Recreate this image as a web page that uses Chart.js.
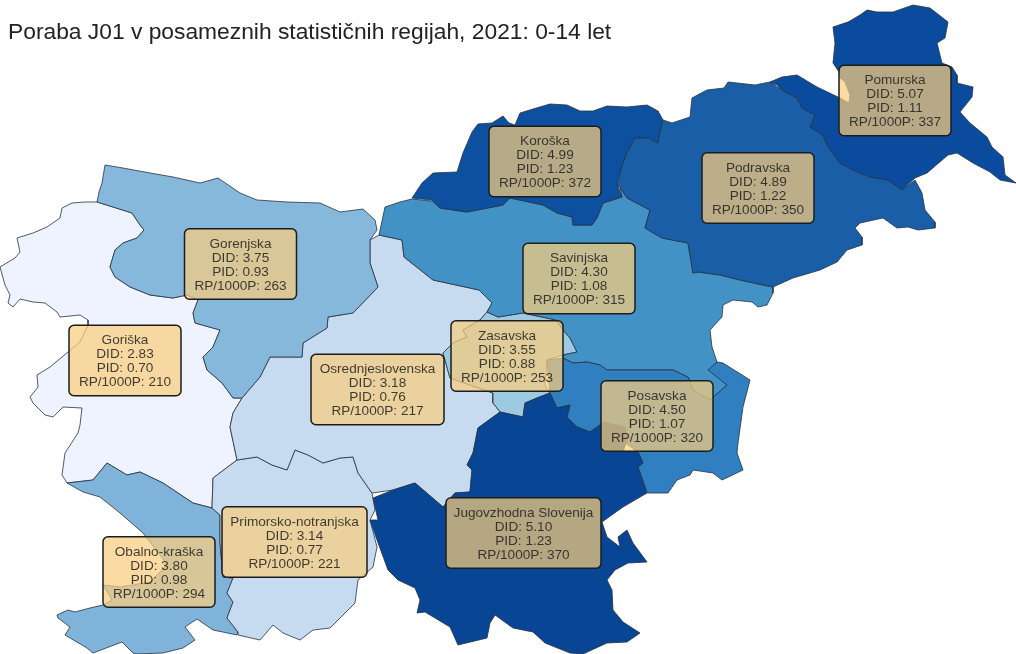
<!DOCTYPE html>
<html>
<head>
<meta charset="utf-8">
<title>Poraba J01</title>
<script src="https://cdn.jsdelivr.net/npm/chart.js@4"></script>
<style>
  body { margin: 0; background: #fff; }
  canvas { display: block; }
</style>
</head>
<body>
<canvas id="mapChart" width="1016" height="654"></canvas>
<script>
const chartTitle = 'Poraba J01 v posameznih statističnih regijah, 2021: 0-14 let';

// Region names and the values printed on the labels
const regions = ['Goriška', 'Obalno-kraška', 'Primorsko-notranjska', 'Osrednjeslovenska', 'Gorenjska', 'Zasavska',
  'Savinjska', 'Koroška', 'Podravska', 'Pomurska', 'Posavska', 'Jugovzhodna Slovenija'];
const did = ['2.83', '3.80', '3.14', '3.18', '3.75', '3.55', '4.30', '4.99', '4.89', '5.07', '4.50', '5.10'];
const pid = ['0.70', '0.98', '0.77', '0.76', '0.93', '0.88', '1.08', '1.23', '1.22', '1.11', '1.07', '1.23'];
const rp = ['210', '294', '221', '217', '263', '253', '315', '372', '350', '337', '320', '370'];

const goriskaOutline = [[97,202],[85,202],[72,203],[62,208],[60,218],[47,227],[33,233],[17,238],[20,252],[15,258],[0,267],[5,285],[10,295],[8,303],[13,307],[20,299],[33,302],[45,303],[57,312],[60,317],[80,315],[88,320],[88,325],[80,342],[68,352],[50,367],[37,375],[38,387],[30,397],[33,403],[45,415],[53,417],[63,407],[82,408],[80,425],[78,433],[65,453],[62,475],[67,483],[93,480],[107,463],[127,475],[140,472],[163,483],[193,503],[212,508],[213,478],[237,460],[230,427],[233,413],[242,398],[233,398],[222,383],[207,370],[203,357],[213,347],[220,330],[195,323],[193,313],[198,300],[187,295],[173,298],[150,295],[130,287],[115,277],[110,267],[115,250],[123,243],[137,238],[144,230],[140,225],[132,213],[113,207]];
const obalnoOutline = [[67,483],[83,492],[100,497],[120,513],[143,533],[160,555],[167,565],[150,582],[120,587],[103,585],[112,600],[103,605],[90,608],[75,612],[68,610],[57,615],[58,618],[70,627],[65,635],[87,648],[93,653],[122,642],[133,653],[137,654],[163,653],[183,648],[195,640],[185,627],[197,619],[213,630],[237,635],[238,632],[227,618],[233,602],[227,593],[233,578],[223,577],[220,543],[220,515],[212,508],[193,503],[163,483],[140,472],[127,475],[107,463],[93,480]];
const primorskoOutline = [[213,478],[237,460],[257,457],[272,465],[287,470],[295,450],[308,455],[323,463],[340,458],[353,457],[358,473],[372,493],[375,510],[370,520],[377,547],[373,567],[358,580],[355,603],[340,618],[330,628],[313,630],[300,640],[283,633],[273,625],[260,640],[238,635],[238,632],[227,618],[233,602],[227,593],[233,578],[223,577],[220,543],[220,515],[212,508]];
const osrednjaOutline = [[242,398],[260,377],[270,357],[302,357],[303,343],[327,328],[328,317],[353,313],[378,287],[370,263],[370,240],[379,235],[402,240],[404,257],[433,280],[479,290],[492,303],[487,312],[480,320],[463,330],[467,337],[453,343],[443,353],[450,378],[493,393],[493,403],[500,412],[478,428],[473,453],[467,465],[472,470],[470,492],[455,493],[443,507],[415,483],[393,490],[372,493],[358,473],[353,457],[340,458],[323,463],[308,455],[295,450],[287,470],[272,465],[257,457],[237,460],[230,427],[233,413]];
const gorenjskaOutline = [[105,165],[102,183],[99,192],[97,202],[113,207],[132,213],[140,225],[144,230],[137,238],[123,243],[115,250],[110,267],[115,277],[130,287],[150,295],[173,298],[187,295],[198,300],[193,313],[195,323],[220,330],[213,347],[203,357],[207,370],[222,383],[233,398],[242,398],[260,377],[270,357],[302,357],[303,343],[327,328],[328,317],[353,313],[378,287],[370,263],[370,240],[377,230],[375,220],[363,209],[340,212],[320,203],[287,202],[257,200],[240,193],[218,178],[200,183],[173,177],[150,173],[123,168]];
const zasavskaOutline = [[487,312],[498,317],[523,313],[556,320],[563,330],[570,338],[577,352],[563,355],[547,360],[545,385],[550,393],[537,398],[525,403],[523,417],[500,412],[493,403],[493,393],[450,378],[443,353],[453,343],[467,337],[463,330],[480,320]];
const savinjskaOutline = [[379,235],[385,207],[400,202],[412,199],[432,201],[440,208],[467,212],[503,205],[510,198],[543,205],[557,213],[572,217],[573,225],[592,225],[597,218],[603,203],[622,197],[620,187],[627,198],[650,210],[645,228],[662,238],[688,243],[693,273],[698,272],[720,275],[740,280],[763,285],[773,287],[773,293],[767,305],[758,307],[752,302],[733,300],[723,305],[722,317],[710,330],[712,347],[717,362],[710,370],[727,385],[710,400],[693,390],[688,377],[673,370],[643,370],[607,370],[600,365],[587,362],[573,363],[563,358],[563,355],[577,352],[570,338],[563,330],[556,320],[523,313],[498,317],[487,312],[492,303],[479,290],[433,280],[404,257],[402,240]];
const koroskaOutline = [[412,198],[422,183],[433,173],[457,172],[463,153],[472,132],[478,124],[492,123],[503,116],[509,123],[515,125],[520,113],[533,109],[550,104],[567,105],[580,111],[593,111],[607,106],[627,107],[647,105],[658,111],[663,120],[660,132],[658,143],[648,138],[635,138],[627,153],[623,163],[617,183],[622,197],[603,203],[597,218],[592,225],[573,225],[572,217],[557,213],[543,205],[510,198],[503,205],[467,212],[440,208],[432,200]];
const podravskaOutline = [[620,187],[617,185],[623,163],[627,153],[635,138],[648,138],[658,143],[660,132],[663,120],[672,123],[690,117],[692,98],[707,90],[724,88],[728,82],[755,85],[770,82],[782,90],[797,98],[802,108],[815,115],[810,127],[823,135],[828,147],[840,163],[853,170],[870,177],[888,180],[902,190],[915,180],[922,193],[925,210],[935,222],[935,228],[918,230],[908,227],[897,228],[883,218],[860,223],[855,228],[862,237],[862,245],[847,250],[837,262],[820,270],[793,278],[773,287],[763,285],[740,280],[720,275],[698,272],[693,273],[688,243],[662,238],[645,228],[650,210],[627,198]];
const pomurskaOutline = [[833,27],[848,22],[860,15],[867,10],[877,12],[893,12],[913,5],[930,8],[948,22],[945,38],[937,43],[942,63],[952,67],[957,75],[957,83],[973,87],[972,97],[960,112],[970,123],[987,137],[992,147],[1003,157],[1005,175],[1016,183],[1000,180],[990,172],[973,163],[957,153],[948,155],[927,173],[915,178],[902,190],[888,180],[870,177],[853,170],[840,163],[828,147],[823,135],[810,127],[815,115],[802,108],[797,98],[782,90],[777,85],[770,82],[782,77],[797,75],[817,87],[840,98],[849,103],[850,95],[845,82],[840,78],[839,72],[833,63],[835,43]];
const posavskaOutline = [[563,358],[573,363],[587,362],[600,365],[607,370],[643,370],[673,370],[688,377],[693,390],[710,400],[727,385],[708,370],[717,362],[723,363],[750,380],[743,407],[738,443],[737,453],[743,470],[722,480],[713,473],[693,470],[690,475],[677,480],[668,493],[647,493],[638,467],[643,463],[638,452],[600,425],[590,432],[577,427],[567,417],[570,405],[557,408],[550,393],[547,360]];
const jvOutline = [[550,393],[537,398],[525,403],[523,417],[500,412],[478,428],[473,453],[467,465],[472,470],[470,492],[455,493],[443,507],[415,483],[393,490],[373,498],[378,520],[370,520],[377,540],[388,570],[398,580],[415,588],[420,600],[417,613],[425,612],[450,627],[458,645],[487,638],[490,623],[495,615],[513,628],[533,632],[545,643],[570,653],[583,654],[607,643],[627,642],[640,633],[623,622],[613,610],[612,590],[607,580],[615,570],[628,563],[647,562],[633,543],[627,530],[618,537],[620,547],[607,537],[602,522],[623,507],[647,493],[638,467],[643,463],[638,452],[623,452],[627,440],[625,427],[603,422],[600,425],[590,432],[577,427],[567,417],[570,405],[557,408]];

const outlines = [goriskaOutline, obalnoOutline, primorskoOutline, osrednjaOutline, gorenjskaOutline, zasavskaOutline,
  savinjskaOutline, koroskaOutline, podravskaOutline, pomurskaOutline, posavskaOutline, jvOutline];

// Label anchors, box centres in map units
const labelX = [125, 159, 294.5, 377.5, 240.5, 507, 579, 545, 758, 895, 657, 523.5];
const labelY = [360.5, 572, 542, 389.5, 264, 356, 278.5, 161.5, 188, 100.5, 416, 533];

const fillColors = ['#eff3ff', '#7fb3da', '#c6dbef', '#c6dbef', '#86b8dc', '#9ecae1',
  '#4292c6', '#0d50a0', '#1a5ea8', '#0b4b9e', '#2f7fc1', '#084594'];

// Label boxes and title go on top of the map
const mapLabels = {
  id: 'mapLabels',
  afterDraw(chart) {
    const ctx = chart.ctx;
    const xs = chart.scales.x;
    const ys = chart.scales.y;
    ctx.save();
    regions.forEach((name, i) => {
      const w = name === 'Jugovzhodna Slovenija' ? 155 : name === 'Primorsko-notranjska' ? 145 : name === 'Osrednjeslovenska' ? 133 : 112;
      const h = 70.5;
      const cx = xs.getPixelForValue(labelX[i]);
      const cy = ys.getPixelForValue(labelY[i]);
      ctx.beginPath();
      ctx.roundRect(cx - w / 2, cy - h / 2, w, h, 5);
      ctx.fillStyle = 'rgba(250, 205, 125, 0.72)';
      ctx.fill();
      ctx.lineWidth = 1.5;
      ctx.strokeStyle = '#1c1c1c';
      ctx.stroke();
      ctx.fillStyle = 'rgba(30, 30, 30, 0.85)';
      ctx.font = '13.6px "Liberation Sans", Arial, sans-serif';
      ctx.textAlign = 'center';
      ctx.textBaseline = 'middle';
      const lines = [name, 'DID: ' + did[i], 'PID: ' + pid[i], 'RP/1000P: ' + rp[i]];
      lines.forEach((line, k) => ctx.fillText(line, cx, cy - 20 + k * 14));
    });
    ctx.fillStyle = '#222';
    ctx.font = '22.8px "Liberation Sans", Arial, sans-serif';
    ctx.textAlign = 'left';
    ctx.textBaseline = 'alphabetic';
    ctx.fillText(chartTitle, 8, 39);
    ctx.restore();
  }
};

function createMap() {
  const ctx = document.getElementById('mapChart').getContext('2d');
  new Chart(ctx, {
    type: 'scatter',
    data: {
      datasets: outlines.map((outline, i) => ({
        label: regions[i],
        data: outline.concat([outline[0]]).map(p => ({ x: p[0], y: p[1] })),
        showLine: true,
        fill: 'shape',
        backgroundColor: fillColors[i],
        borderColor: '#26323f',
        borderWidth: 0.8,
        pointRadius: 0,
        order: outlines.length - i
      }))
    },
    options: {
      responsive: false,
      animation: false,
      layout: { padding: 0 },
      plugins: {
        legend: { display: false },
        tooltip: { enabled: false }
      },
      scales: {
        x: { type: 'linear', min: 0, max: 1016, display: false },
        y: { type: 'linear', min: 0, max: 654, reverse: true, display: false }
      }
    },
    plugins: [mapLabels]
  });
}

window.onload = function() {
  createMap();
};
</script>
</body>
</html>
